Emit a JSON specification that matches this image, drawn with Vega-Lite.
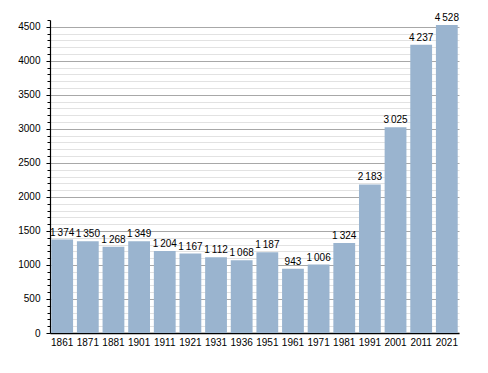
{
  "$schema": "https://vega.github.io/schema/vega-lite/v6.json",
  "width": 409,
  "height": 313,
  "autosize": {"type": "none"},
  "padding": {"left": 50, "top": 20, "right": 29, "bottom": 40},
  "background": "white",
  "config": {
    "locale": {"number": {"decimal": ".", "thousands": "\u2009", "grouping": [3], "currency": ["", ""]}},
    "view": {"stroke": null},
    "font": "Liberation Sans",
    "axis": {"labelFont": "Liberation Sans", "labelFontSize": 10, "labelColor": "#000"}
  },
  "data": {
    "values": [
      {"year": "1861", "pop": 1374},
      {"year": "1871", "pop": 1350},
      {"year": "1881", "pop": 1268},
      {"year": "1901", "pop": 1349},
      {"year": "1911", "pop": 1204},
      {"year": "1921", "pop": 1167},
      {"year": "1931", "pop": 1112},
      {"year": "1936", "pop": 1068},
      {"year": "1951", "pop": 1187},
      {"year": "1961", "pop": 943},
      {"year": "1971", "pop": 1006},
      {"year": "1981", "pop": 1324},
      {"year": "1991", "pop": 2183},
      {"year": "2001", "pop": 3025},
      {"year": "2011", "pop": 4237},
      {"year": "2021", "pop": 4528}
    ]
  },
  "encoding": {
    "x": {
      "field": "year", "type": "ordinal", "sort": null,
      "scale": {"paddingInner": 0.15, "paddingOuter": 0.05},
      "axis": {"title": null, "ticks": false, "labelAngle": 0, "labelPadding": 4, "domainColor": "#000", "domainWidth": 1.5, "grid": false}
    },
    "y": {
      "field": "pop", "type": "quantitative",
      "scale": {"domain": [0, 4600], "nice": false},
      "axis": {
        "title": null,
        "values": [0,100,200,300,400,500,600,700,800,900,1000,1100,1200,1300,1400,1500,1600,1700,1800,1900,2000,2100,2200,2300,2400,2500,2600,2700,2800,2900,3000,3100,3200,3300,3400,3500,3600,3700,3800,3900,4000,4100,4200,4300,4400,4500,4600],
        "labelExpr": "datum.value % 500 === 0 ? format(datum.value, 'd') : ''",
        "grid": true,
        "gridColor": {"condition": {"test": "datum.value % 500 === 0", "value": "#a8a8a8"}, "value": "#e2e2e2"},
        "gridOpacity": {"condition": {"test": "datum.value === 4600", "value": 0}, "value": 1},
        "gridWidth": 1,
        "tickColor": "#000",
        "tickSize": {"condition": {"test": "datum.value % 500 === 0", "value": 4}, "value": 3},
        "labelPadding": 6,
        "domainColor": "#000",
        "domainWidth": 1.2,
        "labelOverlap": false
      }
    }
  },
  "layer": [
    {"mark": {"type": "bar", "color": "#9ab4cf"}},
    {
      "mark": {"type": "text", "baseline": "alphabetic", "dy": -4, "fontSize": 10, "color": "#000", "font": "Liberation Sans"},
      "encoding": {"text": {"field": "pop", "type": "quantitative", "format": ","}}
    }
  ]
}
